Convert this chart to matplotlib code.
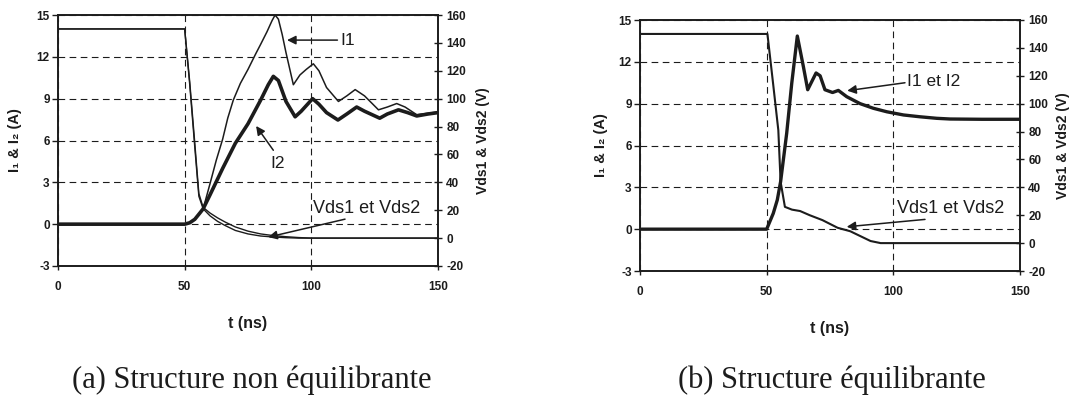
import matplotlib
matplotlib.use("Agg")
import matplotlib.pyplot as plt
import numpy as np

plt.rcParams['font.family'] = ['Liberation Sans', 'DejaVu Sans']
plt.rcParams['axes.unicode_minus'] = False

INK = '#1c1c1c'

# ---- (a) structure non equilibrante ----
t_i1_a = [0, 50, 52, 54, 56, 57.3, 60, 62.5, 65, 67, 69.2, 72, 75, 78, 80, 82.5, 84.5, 85.7, 87, 88.5,
          90, 92.9, 95.5, 98, 100.8, 103, 106, 110.7, 114, 117.3, 121, 126.5, 130, 133.7, 137,
          141.6, 146, 150]
i1_a = [0, 0, 0.1, 0.35, 0.8, 1.1, 2.9, 4.6, 6.1, 7.6, 8.9, 10.1, 11.1, 12.2, 12.9, 13.8, 14.6, 15.0,
        14.7, 13.6, 12.3, 10.0, 10.7, 11.1, 11.5, 11.0, 9.8, 8.8, 9.2, 9.65, 9.2, 8.2, 8.4, 8.65,
        8.4, 7.85, 7.95, 8.05]

t_i2_a = [0, 50, 52, 54, 56, 57.3, 60, 65, 70, 75, 80, 83, 85, 87, 90, 93.6, 96, 100.5, 103, 106,
          110.5, 114, 117.9, 121, 127, 130, 134.4, 138, 141.6, 146, 150]
i2_a = [0, 0, 0.1, 0.35, 0.8, 1.1, 2.1, 4.0, 5.8, 7.2, 8.9, 10.0, 10.6, 10.3, 8.8, 7.7, 8.1, 9.0,
        8.6, 8.0, 7.47, 7.9, 8.4, 8.1, 7.6, 7.9, 8.2, 8.0, 7.76, 7.9, 8.0]

t_vds_a = [0, 50, 52, 54, 55.6, 57.3, 60, 63, 66, 70, 75, 80, 85, 90, 95, 100, 150]
vds1_a = [150, 150, 110, 65, 30, 21, 16, 12, 9, 5.5, 3, 1.5, 0.8, 0.3, 0, 0, 0]
vds2_a = [150, 150, 112, 68, 32, 22, 18, 14.5, 11.5, 8, 5, 3, 1.8, 1, 0.4, 0, 0]

# ---- (b) structure equilibrante ----
t_i_b = [0, 50, 52.6, 54.2, 55.5, 57.9, 59.9, 62.1, 64.5, 66.2, 69.5, 71.1, 73, 76, 78.3, 81.6,
         86.9, 92.1, 97.4, 104, 110.5, 117.1, 122.4, 135, 150]
i_b = [0, 0, 1.13, 2.1, 3.4, 6.87, 10.46, 13.85, 11.65, 10.0, 11.2, 11.0, 10.0, 9.8, 9.95, 9.5,
       9.0, 8.67, 8.42, 8.19, 8.06, 7.95, 7.9, 7.88, 7.88]

t_vds_b = [0, 50.3, 52.5, 54.6, 55.5, 57.2, 60, 63.2, 67, 72, 78, 83, 87, 91, 95, 150]
vds_b = [150, 150, 115, 81, 44, 26, 24, 23, 20, 16.5, 11, 8.5, 5, 1.5, 0, 0]

x_ticks = [0, 50, 100, 150]
i_ticks = [-3, 0, 3, 6, 9, 12, 15]
v_ticks = [-20, 0, 20, 40, 60, 80, 100, 120, 140, 160]

fig = plt.figure(figsize=(10.74, 4.01), dpi=100)
W, H = 1074, 401
TICK_FS = 8.5


def make_axes(left_px, top_px):
    ax = fig.add_axes([left_px / W, 1 - (top_px + 251) / H, 380 / W, 251 / H])
    ax.set_xlim(0, 150)
    ax.set_ylim(-3, 15)
    ax.set_xticks(x_ticks)
    ax.set_yticks(i_ticks)
    ax.grid(True, color=INK, lw=0.8, linestyle=(0, (6, 4)))
    ax.set_axisbelow(True)
    for s in ax.spines.values():
        s.set_color(INK)
        s.set_linewidth(1.2)
    ax.tick_params(axis='y', direction='out', length=4, width=1, pad=2, colors=INK)
    ax.tick_params(axis='x', direction='out', length=3, width=1, pad=8, colors=INK)
    for lab in ax.get_xticklabels() + ax.get_yticklabels():
        lab.set_fontsize(TICK_FS)
        lab.set_fontweight('bold')
    ax.set_xlabel('t (ns)', fontsize=11.5, fontweight='bold', color=INK)
    ax.xaxis.set_label_coords(0.5, -0.2)
    ax.set_ylabel('I₁ & I₂ (A)', fontsize=10.5, fontweight='bold', color=INK)

    ax2 = ax.twinx()
    ax2.set_ylim(-20, 160)
    ax2.set_yticks(v_ticks)
    ax2.tick_params(axis='y', direction='inout', length=6, width=1, pad=3, colors=INK)
    for lab in ax2.get_yticklabels():
        lab.set_fontsize(TICK_FS)
        lab.set_fontweight('bold')
    for s in ax2.spines.values():
        s.set_color(INK)
        s.set_linewidth(1.2)
    ax2.set_ylabel('Vds1 & Vds2 (V)', fontsize=10, fontweight='bold', color=INK)
    return ax, ax2


def arrow(ax, head, tail):
    ax.annotate('', xy=head, xytext=tail,
                arrowprops=dict(arrowstyle='-|>', color=INK, lw=1.1, mutation_scale=13,
                                shrinkA=0, shrinkB=0))


# (a)
axa, axa2 = make_axes(58, 15)
axa.yaxis.set_label_coords(-0.095, 0.5)
axa2.yaxis.set_label_coords(1.1, 0.5)
axa2.plot(t_vds_a, vds1_a, color=INK, lw=1.0)
axa2.plot(t_vds_a, vds2_a, color=INK, lw=1.0)
axa.plot(t_i1_a, i1_a, color=INK, lw=1.1)
axa.plot(t_i2_a, i2_a, color=INK, lw=2.6)

axa.text(111.3, 13.2, 'I1', fontsize=12.5, color=INK, ha='left', va='center')
arrow(axa, (90.4, 13.2), (110.3, 13.2))
axa.text(86.7, 4.35, 'I2', fontsize=12.5, color=INK, ha='center', va='center')
arrow(axa, (78.2, 7.04), (85.0, 5.3))
axa.text(100.7, 1.15, 'Vds1 et Vds2', fontsize=13, color=INK, ha='left', va='center')
arrow(axa, (83.0, -0.93), (113.3, 0.36))

# (b)
axb, axb2 = make_axes(640, 20)
axb.yaxis.set_label_coords(-0.084, 0.5)
axb2.yaxis.set_label_coords(1.095, 0.5)
axb2.plot(t_vds_b, vds_b, color=INK, lw=1.5)
axb.plot(t_i_b, i_b, color=INK, lw=2.4)

axb.text(105.5, 10.57, 'I1 et I2', fontsize=12.5, color=INK, ha='left', va='center')
arrow(axb, (81.8, 9.93), (104.6, 10.5))
axb.text(101.6, 1.49, 'Vds1 et Vds2', fontsize=13, color=INK, ha='left', va='center')
arrow(axb, (81.6, 0.17), (112.5, 0.7))

# captions
fig.text(252 / W, 1 - 388 / H, '(a) Structure non équilibrante', family='Liberation Serif',
         fontsize=22, ha='center', va='baseline', color=INK)
fig.text(832 / W, 1 - 388 / H, '(b) Structure équilibrante', family='Liberation Serif',
         fontsize=22, ha='center', va='baseline', color=INK)

fig.savefig('out.png', dpi=100)
